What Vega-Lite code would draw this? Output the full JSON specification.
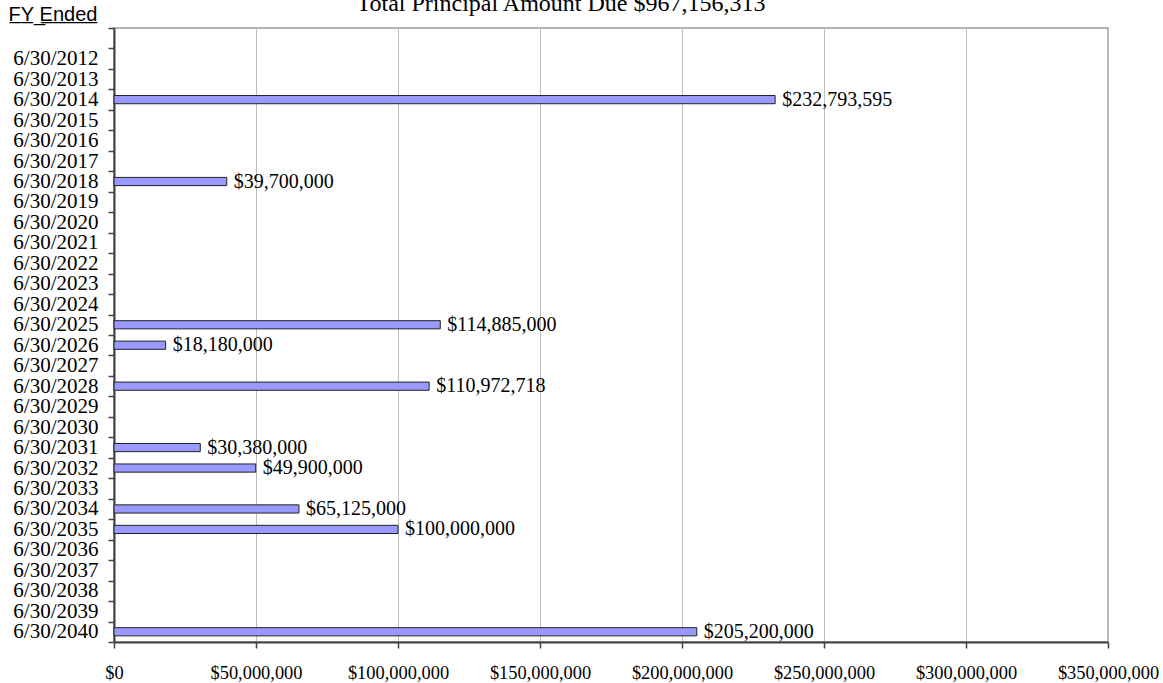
{
  "$schema": "https://vega.github.io/schema/vega-lite/v6.json",
  "width": 994,
  "height": 614,
  "autosize": "none",
  "padding": {"left": 114, "top": 28, "right": 55, "bottom": 41},
  "background": "white",
  "title": {
    "text": "Total Principal Amount Due $967,156,313",
    "font": "Liberation Serif",
    "fontSize": 24,
    "fontWeight": "normal",
    "color": "#000000",
    "anchor": "middle",
    "baseline": "alphabetic",
    "offset": -31,
    "dx": -50
  },
  "config": {
    "view": {"stroke": "#9a9a9a", "strokeWidth": 1.5}
  },
  "data": {
    "values": [
      {"fy": "6/30/2014", "amount": 232793595},
      {"fy": "6/30/2018", "amount": 39700000},
      {"fy": "6/30/2025", "amount": 114885000},
      {"fy": "6/30/2026", "amount": 18180000},
      {"fy": "6/30/2028", "amount": 110972718},
      {"fy": "6/30/2031", "amount": 30380000},
      {"fy": "6/30/2032", "amount": 49900000},
      {"fy": "6/30/2034", "amount": 65125000},
      {"fy": "6/30/2035", "amount": 100000000},
      {"fy": "6/30/2040", "amount": 205200000}
    ]
  },
  "encoding": {
    "y": {
      "field": "fy",
      "type": "nominal",
      "sort": null,
      "scale": {
        "domain": [" ", "6/30/2012", "6/30/2013", "6/30/2014", "6/30/2015", "6/30/2016", "6/30/2017", "6/30/2018", "6/30/2019", "6/30/2020", "6/30/2021", "6/30/2022", "6/30/2023", "6/30/2024", "6/30/2025", "6/30/2026", "6/30/2027", "6/30/2028", "6/30/2029", "6/30/2030", "6/30/2031", "6/30/2032", "6/30/2033", "6/30/2034", "6/30/2035", "6/30/2036", "6/30/2037", "6/30/2038", "6/30/2039", "6/30/2040"],
        "paddingInner": 0,
        "paddingOuter": 0
      },
      "axis": {
        "title": "F̲Y̲ ̲E̲n̲d̲e̲d̲",
        "titleFont": "Liberation Sans",
        "titleFontSize": 20,
        "titleFontWeight": "normal",
        "titleColor": "#000000",
        "titleAngle": 0,
        "titleAlign": "left",
        "titleBaseline": "alphabetic",
        "titleX": -106,
        "titleY": -8,
        "labelFont": "Liberation Serif",
        "labelFontSize": 21,
        "labelColor": "#000000",
        "labelPadding": 10,
        "labelOverlap": false,
        "tickBand": "extent",
        "tickSize": 6,
        "tickColor": "#404040",
        "tickWidth": 1.5,
        "domainColor": "#404040",
        "domainWidth": 2,
        "grid": false
      }
    },
    "x": {
      "field": "amount",
      "type": "quantitative",
      "scale": {"domain": [0, 350000000], "nice": false},
      "axis": {
        "title": null,
        "values": [0, 50000000, 100000000, 150000000, 200000000, 250000000, 300000000, 350000000],
        "format": "$,.0f",
        "labelFont": "Liberation Serif",
        "labelFontSize": 18.4,
        "labelColor": "#000000",
        "labelPadding": 15,
        "labelOverlap": false,
        "labelFlush": false,
        "tickSize": 6,
        "tickColor": "#404040",
        "tickWidth": 1.5,
        "domainColor": "#404040",
        "domainWidth": 2,
        "grid": true,
        "gridColor": "#bdbdbd",
        "gridWidth": 1
      }
    }
  },
  "layer": [
    {
      "mark": {"type": "bar", "height": {"band": 0.4}, "fill": "#9999FF", "stroke": "#222222", "strokeWidth": 1}
    },
    {
      "mark": {"type": "text", "align": "left", "baseline": "middle", "dx": 7, "font": "Liberation Serif", "fontSize": 20, "color": "#000000"},
      "encoding": {
        "text": {"field": "amount", "type": "quantitative", "format": "$,.0f"}
      }
    }
  ]
}
